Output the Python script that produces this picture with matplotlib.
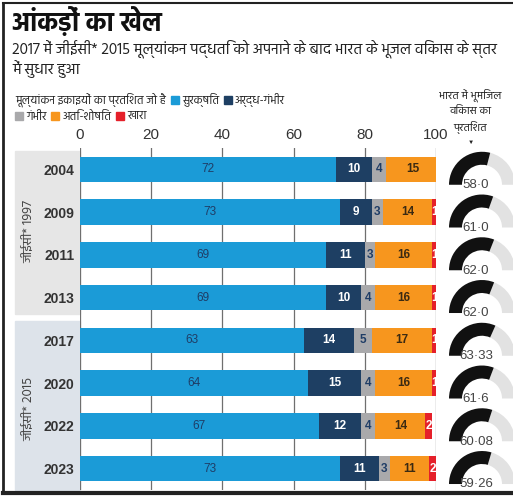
import matplotlib

matplotlib.use("Agg")
import matplotlib.pyplot as plt  # noqa: E402
from matplotlib import font_manager  # noqa: E402
from matplotlib.lines import Line2D  # noqa: E402
from matplotlib.patches import Rectangle, Wedge  # noqa: E402
import matplotlib.transforms as mtransforms  # noqa: E402

# --- data -------------------------------------------------------------
years = ["2004", "2009", "2011", "2013", "2017", "2020", "2022", "2023"]
safe = [72, 73, 69, 69, 63, 64, 67, 73]
semi_critical = [10, 9, 11, 10, 14, 15, 12, 11]
critical = [4, 3, 3, 4, 5, 4, 4, 3]
over_exploited = [15, 14, 16, 16, 17, 16, 14, 11]
saline = [0, 1, 1, 1, 1, 1, 2, 2]
development = [58.0, 61.0, 62.0, 62.0, 63.33, 61.6, 60.08, 59.26]
development_labels = ["58·0", "61·0", "62·0", "62·0", "63·33", "61·6", "60·08", "59·26"]
ticks = [0, 20, 40, 60, 80, 100]
group_names = ["जीईसी* 1997", "जीईसी* 2015"]
category_names = ["सुरक्षित", "अर्द्ध-गंभीर", "गंभीर", "अति-शोषित", "खारा"]

title = "आंकड़ों का खेल"
subtitle = ["2017 में जीईसी* 2015 मूल्यांकन पद्धति को अपनाने के बाद भारत के भूजल विकास के स्तर",
            "में सुधार हुआ"]
legend_intro = "मूल्यांकन इकाइयों का प्रतिशत जो है"
gauge_title = ["भारत में भूमिजल", "विकास का", "प्रतिशत"]

COLORS = ["#1b9bd7", "#1e3f63", "#a9a9ab", "#f7961e", "#e5202a"]
LABEL_COLORS = ["#1f3d66", "white", "#1f3d66", "#3b2a12", "white"]
LABEL_WEIGHTS = ["normal", "bold", "bold", "bold", "bold"]

# --- fonts -------------------------------------------------------------
available = {f.name for f in font_manager.fontManager.ttflist}
deva = next((f for f in ["Hind", "Mukta", "Noto Sans Devanagari", "Poppins", "Biryani"]
             if f in available), "DejaVu Sans")
HINDI = [deva, "DejaVu Sans"]
LATIN = ["Liberation Sans", "DejaVu Sans"]
NARROW = ["Liberation Sans Narrow", "Liberation Sans", "DejaVu Sans"]

W, H = 513, 496
fig = plt.figure(figsize=(W / 100, H / 100), dpi=100)


def fx(px):
    return px / W


def fy(py):
    return 1 - py / H


# --- header ------------------------------------------------------------
fig.text(fx(12), fy(21), title, family=HINDI, fontsize=18.5, fontweight="bold",
         color="#111111", va="center")
for i, line in enumerate(subtitle):
    fig.text(fx(12), fy(49 + i * 20), line, family=HINDI, fontsize=11.1,
             color="#222222", va="center")

renderer = fig.canvas.get_renderer()


def legend_row(x, y, parts):
    for kind, val in parts:
        if kind == "box":
            fig.patches.append(Rectangle((fx(x), fy(y + 4)), fx(8), 8 / H, color=val,
                                         transform=fig.transFigure, figure=fig))
            x += 11
        else:
            t = fig.text(fx(x), fy(y), val, family=HINDI, fontsize=8.3,
                         color="#222222", va="center")
            x += t.get_window_extent(renderer).width + 5


legend_row(15, 100, [("text", legend_intro), ("box", COLORS[0]), ("text", category_names[0]),
                     ("box", COLORS[1]), ("text", category_names[1])])
legend_row(15, 116, [("box", COLORS[2]), ("text", category_names[2]),
                     ("box", COLORS[3]), ("text", category_names[3]),
                     ("box", COLORS[4]), ("text", category_names[4])])

for i, line in enumerate(gauge_title):
    fig.text(fx(470), fy(95 + i * 16), line, family=HINDI, fontsize=8,
             color="#222222", ha="center", va="center")
fig.text(fx(471), fy(142), "▼", family=LATIN, fontsize=4.5, color="#222222",
         ha="center", va="center")

# --- stacked bars ------------------------------------------------------
ax_left, ax_right, ax_top, ax_bottom = 80, 436, 148, 490
ax = fig.add_axes([fx(ax_left), fy(ax_bottom), fx(ax_right - ax_left),
                   (ax_bottom - ax_top) / H])
rows = list(range(len(years)))
series = [safe, semi_critical, critical, over_exploited, saline]
left = [0] * len(years)
for k, values in enumerate(series):
    ax.barh(rows, values, left=left, height=0.6, color=COLORS[k], zorder=3)
    for r, v in enumerate(values):
        if v > 0:
            ax.text(left[r] + v / 2, r, str(v), ha="center", va="center",
                    fontsize=8.5, family=LATIN, color=LABEL_COLORS[k],
                    fontweight=LABEL_WEIGHTS[k], zorder=4, clip_on=True)
    left = [a + b for a, b in zip(left, values)]

ax.set_xlim(0, 100)
ax.set_ylim(len(years) - 0.5, -0.5)
ax.set_xticks(ticks)
ax.xaxis.tick_top()
ax.tick_params(axis="x", length=0, pad=4, labelsize=11, labelcolor="#333333")
for lab in ax.get_xticklabels():
    lab.set_family(LATIN)
ax.set_yticks(rows)
ax.set_yticklabels(years, family=LATIN, fontweight="bold", fontsize=10, color="#333333")
ax.tick_params(axis="y", length=0, pad=4)
ax.grid(axis="x", color="#6f6f6f", linewidth=0.9, zorder=1)
for s in ax.spines.values():
    s.set_visible(False)

# group panels behind year labels
trans = mtransforms.blended_transform_factory(ax.transAxes, ax.transData)
panel_spans = [(-0.42, 3.38), (3.54, 7.5)]
panel_colors = ["#e6e6e6", "#dde3ea"]
label_centres = [1.45, 5.6]
for (y0, y1), c, name, yc in zip(panel_spans, panel_colors, group_names, label_centres):
    ax.add_patch(Rectangle((-65 / 356, y0), 65 / 356, y1 - y0, transform=trans,
                           color=c, clip_on=False, zorder=0))
    ax.text(-52 / 356, yc, name, transform=trans, rotation=90, ha="center",
            va="center", family=HINDI, fontsize=9.5, color="#444444")

# --- gauges ------------------------------------------------------------
g_left = 440
gax = fig.add_axes([fx(g_left), fy(ax_bottom), fx(W - g_left), (ax_bottom - ax_top) / H])
unit = (ax_bottom - ax_top) / len(years)
gax.set_xlim(0, (W - g_left) / unit)
gax.set_ylim(-0.5, len(years) - 0.5)
gax.axis("off")
cx = (482 - g_left) / unit
r_out, ring = 33 / unit, 13 / unit
for r, (v, lab) in enumerate(zip(development, development_labels)):
    cy = len(years) - 1 - r - 0.36
    split = 180 - v * 1.8
    gax.add_patch(Wedge((cx, cy), r_out, 0, split, width=ring, color="#e2e2e2", lw=0))
    gax.add_patch(Wedge((cx, cy), r_out, split, 180, width=ring, color="#111111", lw=0))
    gax.text(cx - 0.14, cy - 0.08, lab, ha="center", va="baseline", fontsize=9.5,
             family=NARROW, color="#444444", zorder=5)

# --- frame -------------------------------------------------------------
for xs, ys, lw in [([3, 3], [3, 493], 2), ([3, W], [3, 3], 1.5), ([3, W], [493, 493], 3)]:
    fig.add_artist(Line2D([fx(x) for x in xs], [fy(y) for y in ys], color="#222222",
                          linewidth=lw, transform=fig.transFigure))

fig.savefig("out.png", dpi=100)
